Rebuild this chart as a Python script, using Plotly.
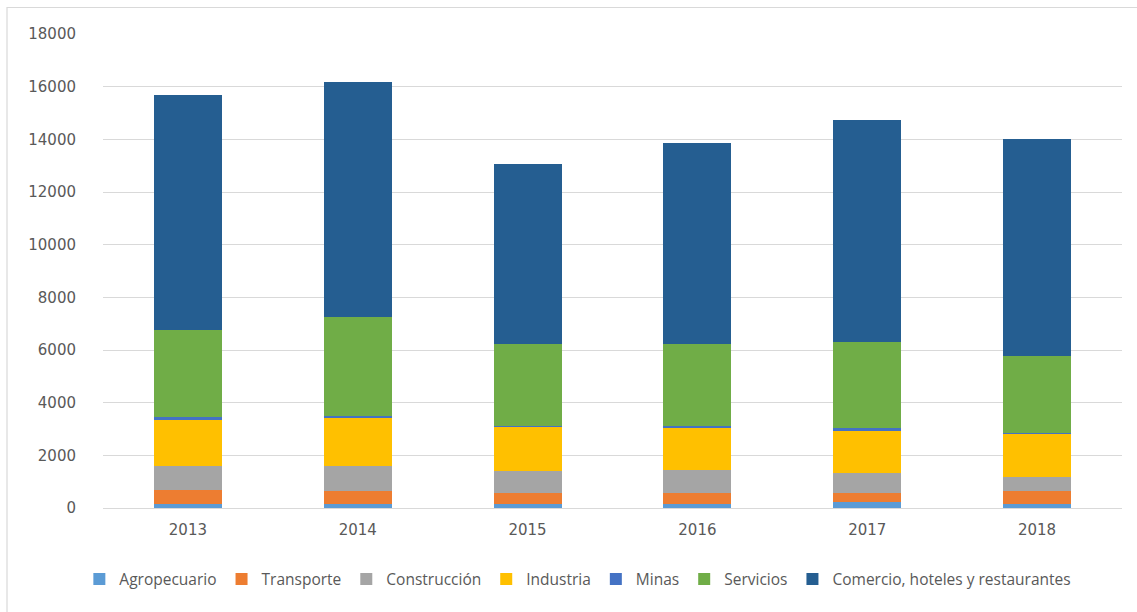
import plotly.graph_objects as go

# Years on the category axis
years = ["2013", "2014", "2015", "2016", "2017", "2018"]

# Stacked segment values per sector
agropecuario = [160, 160, 145, 145, 235, 145]
transporte = [540, 480, 435, 435, 345, 495]
construccion = [890, 950, 810, 880, 740, 550]
industria = [1770, 1840, 1700, 1560, 1630, 1630]
minas = [80, 70, 20, 90, 70, 15]
servicios = [3330, 3740, 3110, 3110, 3270, 2940]
comercio = [8910, 8940, 6840, 7640, 8440, 8250]

y_ticks = [0, 2000, 4000, 6000, 8000, 10000, 12000, 14000, 16000, 18000]
y_tick_text = [str(v) for v in y_ticks]

series = [
    ("Agropecuario", agropecuario, "#5B9BD5"),
    ("Transporte", transporte, "#ED7D31"),
    ("Construcción", construccion, "#A5A5A5"),
    ("Industria", industria, "#FFC000"),
    ("Minas", minas, "#4472C4"),
    ("Servicios", servicios, "#70AD47"),
    ("Comercio, hoteles y restaurantes", comercio, "#255E91"),
]

fig = go.Figure()
for name, vals, color in series:
    fig.add_trace(go.Bar(
        x=years, y=vals, name=name,
        marker=dict(color=color, line=dict(width=0)),
        width=0.4,
    ))

W, H = 1137, 612
ml, mr, mt, mb = 103, 15, 34, 104

# outer chart border (light grey frame)
def px_to_paper_x(px):
    return (px - ml) / (W - ml - mr)

def px_to_paper_y(py):
    return (H - mb - py) / (H - mt - mb)

fig.add_shape(type="rect", xref="paper", yref="paper",
              x0=px_to_paper_x(7), x1=px_to_paper_x(1140),
              y0=px_to_paper_y(615), y1=px_to_paper_y(7.5),
              line=dict(color="#D9D9D9", width=1.2), fillcolor="rgba(0,0,0,0)",
              layer="below")

fig.update_layout(
    barmode="stack",
    width=W, height=H,
    margin=dict(l=ml, r=mr, t=mt, b=mb),
    paper_bgcolor="white",
    plot_bgcolor="white",
    font=dict(family="DejaVu Sans", size=14, color="#595959"),
    showlegend=True,
    legend=dict(
        orientation="h", x=0.466, xanchor="center", y=-0.115, yanchor="top",
        font=dict(family="Open Sans", size=15.5, color="#595959"),
        itemwidth=30, tracegroupgap=0, traceorder="normal",
    ),
    xaxis=dict(
        showgrid=False, showline=True, linecolor="#D9D9D9", linewidth=1,
        ticks="", tickfont=dict(size=15, color="#595959"),
        ticklabelstandoff=8,
    ),
    yaxis=dict(
        range=[0, 18000], tickvals=y_ticks, ticktext=y_tick_text,
        showgrid=True, gridcolor="#D9D9D9", gridwidth=1,
        zeroline=False, showline=False, ticks="",
        tickfont=dict(size=15, color="#595959"),
        ticklabelstandoff=26,
    ),
    bargap=0.6,
)

fig.write_html("out.html")
